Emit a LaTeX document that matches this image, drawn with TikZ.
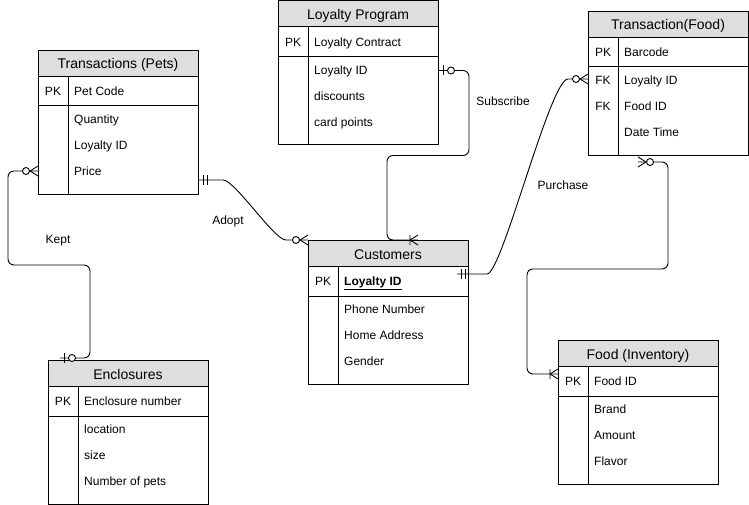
\documentclass[tikz,border=0pt]{standalone}
\usepackage{fontspec}
\setmainfont{Liberation Sans}
\usetikzlibrary{calc}
\definecolor{hdrgray}{HTML}{DEDEDE}
\tikzset{
  tblbox/.style={draw=black, line width=1pt, minimum width=160pt, minimum height=144pt, inner sep=0pt, anchor=north west},
  tblhead/.style={draw=black, line width=1pt, fill=hdrgray, minimum width=160pt, minimum height=26pt, inner sep=0pt, anchor=north west},
  headtxt/.style={inner sep=0pt, text height=10pt, text depth=3pt, font=\fontsize{14}{16}\selectfont},
  tblline/.style={line width=1pt},
  fieldtxt/.style={anchor=west, inner sep=0pt, text height=9pt, text depth=2.5pt, font=\fontsize{12}{14}\selectfont},
  keytxt/.style={anchor=center, inner sep=0pt, text height=9pt, text depth=2.5pt, font=\fontsize{12}{14}\selectfont},
  conn/.style={line width=0.9pt, rounded corners=6pt},
  lbl/.style={inner sep=0pt, font=\fontsize{12}{14}\selectfont},
  mk/.style={line width=0.9pt},
  zmany/.pic={\draw[mk] (-8,0) -- (0,-5) (-8,0) -- (0,5);
              \draw[mk, fill=white] (-12,0) circle[radius=3.5pt];},
  onemany/.pic={\draw[mk] (-8,0) -- (0,-5) (-8,0) -- (0,5) (-8,-5) -- (-8,5);},
  mone/.pic={\draw[mk] (-4.5,-5) -- (-4.5,5) (-8,-5) -- (-8,5);},
  zone/.pic={\draw[mk] (-4,-5) -- (-4,5);
             \draw[mk, fill=white] (-12,0) circle[radius=3.5pt];},
}
% name, x, y, title, pk field, f1, f2, f3
\newcommand{\ertable}[8]{%
  \node[tblbox] (#1) at (#2,#3) {};
  \node[tblhead] (#1-h) at (#1.north west) {};
  \node[headtxt] (#1-t) at ($(#1.north west)+(80,15.5)$) {#4};
  \draw[tblline] ($(#1.north west)+(0,56)$) -- ($(#1.north east)+(0,56)$);
  \draw[tblline] ($(#1.north west)+(30,26)$) -- ($(#1.south west)+(30,0)$);
  \node[keytxt] (#1-pk) at ($(#1.north west)+(15,42.5)$) {PK};
  \node[fieldtxt] (#1-f0) at ($(#1.north west)+(36,42.5)$) {#5};
  \node[fieldtxt] (#1-f1) at ($(#1.north west)+(36,70.5)$) {#6};
  \node[fieldtxt] (#1-f2) at ($(#1.north west)+(36,96.5)$) {#7};
  \node[fieldtxt] (#1-f3) at ($(#1.north west)+(36,122.5)$) {#8};
}
\begin{document}
\begin{tikzpicture}[x=1pt, y=-1pt]
\useasboundingbox (0,0) rectangle (749,505);

\ertable{tp}{38}{50}{Transactions (Pets)}{Pet Code}{Quantity}{Loyalty ID}{Price}
\ertable{lp}{278}{0.5}{Loyalty Program}{Loyalty Contract}{Loyalty ID}{discounts}{card points}
\ertable{tf}{588}{11}{Transaction(Food)}{Barcode}{Loyalty ID}{Food ID}{Date Time}
\node[keytxt] (tf-k1) at ($(tf.north west)+(15,70.5)$) {FK};
\node[keytxt] (tf-k2) at ($(tf.north west)+(15,96.5)$) {FK};
\ertable{cu}{308}{240}{Customers}{\textbf{\underline{Loyalty ID}}}{Phone Number}{Home Address}{Gender}
\ertable{en}{48}{360}{Enclosures}{Enclosure number}{location}{size}{Number of pets}
\ertable{fi}{558}{340}{Food (Inventory)}{Food ID}{Brand}{Amount}{Flavor}

% connector end points
\coordinate (a1) at ($(tp.north east)+(0,130)$);
\coordinate (a2) at (cu.north west);
\coordinate (k0) at ($(tp.north west)+(0,121)$);
\coordinate (k1) at ($(en.north west)+(12,-2)$);
\coordinate (s0) at ($(lp.north east)+(0,70)$);
\coordinate (s1) at ($(cu.north west)+(110,0)$);
\coordinate (p0) at ($(cu.north east)+(-12,34)$);
\coordinate (p1) at ($(tf.north west)+(0,68)$);
\coordinate (f0) at ($(tf.south west)+(50,6)$);
\coordinate (f1) at ($(fi.north west)+(0,34)$);

% Adopt
\draw[line width=0.9pt] (a1) -- ($(a1)+(24,0)$)
  .. controls ($(a1)+(36,0)$) and ($(a2)+(-34,0)$) .. ($(a2)+(-22,0)$) -- (a2);
% Kept
\draw[conn] (k0) -- ($(k0)+(-30,0)$) |- ($(k1)+(30,-93)$) |- (k1);
% Subscribe
\draw[conn] (s0) -| ($(s0)+(30,85)$) -| ($(s1)+(-31,0)$) -- (s1);
% Purchase
\draw[line width=0.9pt] (p0) -- ($(p0)+(30,0)$)
  .. controls ($(p0)+(45,0)$) and ($(p1)+(-38,0)$) .. ($(p1)+(-20,0)$) -- (p1);
% Food
\draw[conn] (f0) -| ($(f0)+(30,107)$) -| ($(f1)+(-31,0)$) -- (f1);

% markers
\pic[rotate=180] at (a1) {mone};
\pic at (a2) {zmany};
\pic at (k0) {zmany};
\pic[rotate=180] at (k1) {zone};
\pic[rotate=180] at (s0) {zone};
\pic at (s1) {onemany};
\pic[rotate=180] at (p0) {mone};
\pic at (p1) {zmany};
\pic[rotate=180] at (f0) {zmany};
\pic at (f1) {onemany};

% labels
\node[lbl] (lAdopt) at (228,221) {Adopt};
\node[lbl] (lKept) at (58,241) {Kept};
\node[lbl] (lSub) at (503,101) {Subscribe};
\node[lbl] (lPur) at (563,185) {Purchase};
\end{tikzpicture}
\end{document}
